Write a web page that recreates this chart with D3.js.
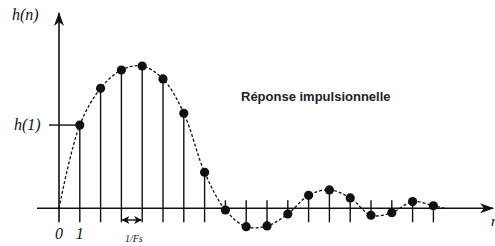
<!DOCTYPE html>
<html>
<head>
<meta charset="utf-8">
<script src="https://cdn.jsdelivr.net/npm/d3@7"></script>
<style>
  body { margin: 0; background: #fff; }
  svg { display: block; }
  .lab { font-family: "Liberation Serif", "Times New Roman", serif; font-style: italic; fill: #111; }
</style>
</head>
<body>
<script>
// sample index and impulse response values (peak = 1)
const samples = d3.range(1, 19)
const values = [0.585, 0.843, 0.972, 1.0, 0.909, 0.668, 0.253, -0.012, -0.129,
                -0.124, -0.040, 0.091, 0.129, 0.073, -0.049, -0.031, 0.047, 0.018]
const nEnd = 18.55   // where the dashed envelope comes back to the axis
const title = "Réponse impulsionnelle"

const w = 495, h = 246

const svg = d3.select("body").append("svg")
  .attr("width", w).attr("height", h)

const x = d3.scaleLinear().domain([0, 18]).range([59, 433.4])
const y = d3.scaleLinear().domain([0, 1]).range([208.3, 66])
const y0 = y(0)

// arrow heads
const defs = svg.append("defs")
defs.append("marker")
  .attr("id", "arr")
  .attr("viewBox", "0 0 14 10")
  .attr("refX", 13).attr("refY", 5)
  .attr("markerWidth", 14).attr("markerHeight", 10)
  .attr("markerUnits", "userSpaceOnUse")
  .attr("orient", "auto")
  .append("path")
  .attr("d", "M0,0 L14,5 L0,10 L4,5 Z")
  .attr("fill", "#111")
defs.append("marker")
  .attr("id", "small")
  .attr("viewBox", "0 0 8 8")
  .attr("refX", 7).attr("refY", 4)
  .attr("markerWidth", 8).attr("markerHeight", 8)
  .attr("markerUnits", "userSpaceOnUse")
  .attr("orient", "auto-start-reverse")
  .append("path")
  .attr("d", "M0,0 L8,4 L0,8 L2,4 Z")
  .attr("fill", "#111")

// x axis
svg.append("line")
  .attr("x1", 37).attr("x2", 493)
  .attr("y1", y0).attr("y2", y0)
  .attr("stroke", "#111").attr("stroke-width", 1.5)
  .attr("marker-end", "url(#arr)")

// y axis
svg.append("line")
  .attr("x1", x(0)).attr("x2", x(0))
  .attr("y1", y0 + 14).attr("y2", 13)
  .attr("stroke", "#111").attr("stroke-width", 1.6)
  .attr("marker-end", "url(#arr)")

const data = samples.map((n, i) => ({n: n, v: values[i]}))

// stems: positive ones drop below the axis, negative ones rise above it
svg.selectAll(".stem")
  .data(data)
  .enter()
  .append("line")
  .attr("class", "stem")
  .attr("x1", d => x(d.n)).attr("x2", d => x(d.n))
  .attr("y1", d => d.v > 0 ? y(d.v) : y0 - 8)
  .attr("y2", d => d.v > 0 ? y0 + 14 : y(d.v))
  .attr("stroke", "#111").attr("stroke-width", 1.4)

// dashed envelope
const env = [[0, 0]].concat(data.map(d => [d.n, d.v])).concat([[nEnd, 0]])
svg.append("path")
  .datum(env)
  .attr("d", d3.line().x(d => x(d[0])).y(d => y(d[1])).curve(d3.curveCatmullRom.alpha(0.5)))
  .attr("fill", "none")
  .attr("stroke", "#111")
  .attr("stroke-width", 1.3)
  .attr("stroke-dasharray", "3,2")

// samples
svg.selectAll(".dot")
  .data(data)
  .enter()
  .append("circle")
  .attr("class", "dot")
  .attr("cx", d => x(d.n))
  .attr("cy", d => y(d.v))
  .attr("r", 4.6)
  .attr("fill", "#111")

// h(1) marker
svg.append("line")
  .attr("x1", 49).attr("x2", x(1))
  .attr("y1", y(values[0])).attr("y2", y(values[0]))
  .attr("stroke", "#111").attr("stroke-width", 1.4)

svg.append("text").attr("class", "lab")
  .attr("x", 14).attr("y", y(values[0]) + 5)
  .attr("font-size", 16)
  .text("h(1)")

svg.append("text").attr("class", "lab")
  .attr("x", 12).attr("y", 20)
  .attr("font-size", 16)
  .text("h(n)")

svg.append("text").attr("class", "lab")
  .attr("x", x(0)).attr("y", 239)
  .attr("text-anchor", "middle")
  .attr("font-size", 16)
  .text("0")

svg.append("text").attr("class", "lab")
  .attr("x", x(1)).attr("y", 239)
  .attr("text-anchor", "middle")
  .attr("font-size", 16)
  .text("1")

svg.append("text").attr("class", "lab")
  .attr("x", 491).attr("y", 226)
  .attr("font-size", 15)
  .text("n")

// sampling period
svg.append("line")
  .attr("x1", x(3) + 1).attr("x2", x(4) - 1)
  .attr("y1", 220).attr("y2", 220)
  .attr("stroke", "#111").attr("stroke-width", 1.4)
  .attr("marker-start", "url(#small)")
  .attr("marker-end", "url(#small)")

svg.append("text").attr("class", "lab")
  .attr("x", (x(3) + x(4)) / 2 + 2).attr("y", 242)
  .attr("text-anchor", "middle")
  .attr("font-size", 10)
  .text("1/Fs")

svg.append("text")
  .attr("x", 241).attr("y", 101)
  .attr("font-family", "'Liberation Sans', Arial, sans-serif")
  .attr("font-weight", "bold")
  .attr("font-size", 13)
  .attr("fill", "#222")
  .text(title)
</script>
</body>
</html>
